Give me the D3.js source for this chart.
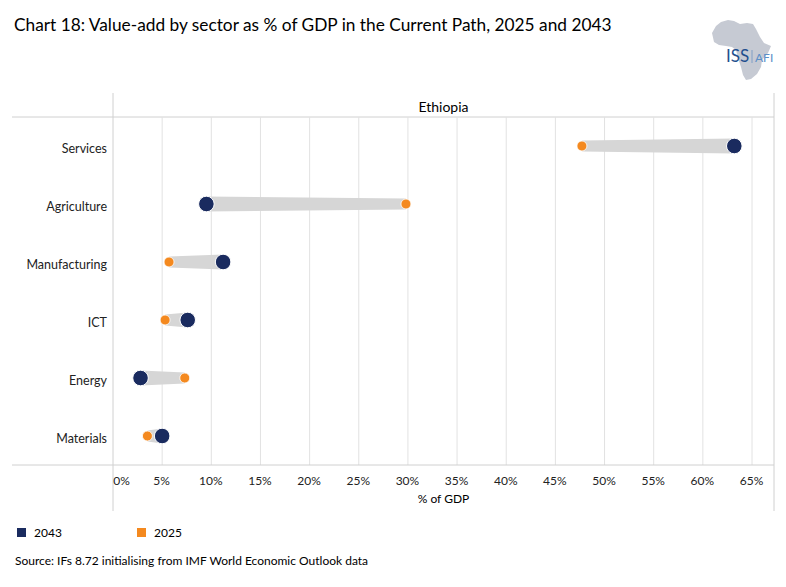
<!DOCTYPE html>
<html>
<head>
<meta charset="utf-8">
<title>Value-add by sector, Ethiopia</title>
<script src="https://d3js.org/d3.v7.min.js"></script>
<style>
  body { margin: 0; background: #fff; }
  svg { font-family: Lato, "Open Sans", sans-serif; }
</style>
</head>
<body>
<svg width="786" height="587"></svg>
<script>
// data (% of GDP)
var sectors = ["Services", "Agriculture", "Manufacturing", "ICT", "Energy", "Materials"];
var values2043 = [63.2, 9.5, 11.2, 7.6, 2.8, 5.0];
var values2025 = [47.7, 29.8, 5.7, 5.3, 7.3, 3.5];
var tickValues = [0, 5, 10, 15, 20, 25, 30, 35, 40, 45, 50, 55, 60, 65];
var seriesNames = ["2043", "2025"];
var seriesColors = ["#1a2b5f", "#f4891f"];

var svg = d3.select("svg");

var plotLeft = 113, plotRight = 774, plotTop = 117, plotBottom = 465;

var xScale = d3.scaleLinear().domain([0, 65]).range([plotLeft, 752]);
var yScale = d3.scaleBand().domain(sectors).range([plotTop, plotBottom]);

// title
svg.append("text")
  .attr("x", 14).attr("y", 31)
  .attr("font-size", 17.3).attr("fill", "#000")
  .text("Chart 18: Value-add by sector as % of GDP in the Current Path, 2025 and 2043");

// logo
var logo = svg.append("g");
logo.append("path")
  .attr("d", "M712,33 L716,26 L721,22 L728,20 L734,21 L740,24 L747,23 L753,24 L756,29 L760,37 L764,43 L771,46 L768,53 L762,60 L761,67 L757,74 L751,79 L746,80 L743,75 L741,67 L738,58 L736,50 L732,47 L726,46 L719,45 L714,42 Z")
  .attr("fill", "#c6cad3");
logo.append("text")
  .attr("x", 726).attr("y", 62)
  .attr("font-size", 17).attr("fill", "#1f4f8e")
  .text("ISS");
logo.append("line")
  .attr("x1", 752).attr("x2", 752).attr("y1", 50).attr("y2", 63)
  .attr("stroke", "#6f95c4").attr("stroke-width", 0.8);
logo.append("text")
  .attr("x", 755).attr("y", 62)
  .attr("font-size", 12).attr("fill", "#5b8fc7")
  .text("AFI");

// panel frame
var frameColor = "#d0d0d0";
svg.append("line").attr("x1", plotLeft).attr("x2", plotLeft).attr("y1", 93).attr("y2", 511)
  .attr("stroke", frameColor);
svg.append("line").attr("x1", plotRight).attr("x2", plotRight).attr("y1", 93).attr("y2", 511)
  .attr("stroke", frameColor);
svg.append("line").attr("x1", 12).attr("x2", plotRight).attr("y1", plotTop).attr("y2", plotTop)
  .attr("stroke", frameColor);

// strip label
svg.append("text")
  .attr("x", (plotLeft + plotRight) / 2).attr("y", 112)
  .attr("text-anchor", "middle").attr("font-size", 14)
  .text("Ethiopia");

// gridlines
svg.append("g").selectAll("line")
  .data(tickValues.filter(function(d) { return d > 0; }))
  .enter().append("line")
  .attr("x1", function(d) { return xScale(d); })
  .attr("x2", function(d) { return xScale(d); })
  .attr("y1", plotTop).attr("y2", plotBottom)
  .attr("stroke", "#e2e2e2");

// bottom axis line
svg.append("line").attr("x1", 12).attr("x2", plotRight).attr("y1", plotBottom).attr("y2", plotBottom)
  .attr("stroke", frameColor);

// x axis labels
var xAxis = svg.append("g")
  .attr("transform", "translate(0," + plotBottom + ")")
  .call(d3.axisBottom(xScale).tickValues(tickValues).tickSize(0).tickPadding(0)
    .tickFormat(function(d) { return d + "%"; }));
xAxis.select(".domain").remove();
xAxis.selectAll("text")
  .attr("y", 20)
  .attr("dy", 0)
  .attr("font-family", "Lato, 'Open Sans', sans-serif")
  .attr("font-size", 12).attr("fill", "#222")
  .attr("dx", function(d) { return d === 0 ? 8 : -1; });

svg.append("text")
  .attr("x", (plotLeft + plotRight) / 2).attr("y", 503)
  .attr("text-anchor", "middle").attr("font-size", 12)
  .text("% of GDP");

// y axis labels (sit a little below the dots, as in the original)
var yAxis = svg.append("g")
  .attr("transform", "translate(107,3)")
  .call(d3.axisLeft(yScale).tickSize(0).tickPadding(0));
yAxis.select(".domain").remove();
yAxis.selectAll("text")
  .attr("font-family", "Lato, 'Open Sans', sans-serif")
  .attr("font-size", 12.5).attr("fill", "#222");

// connectors: tapered band, wider at the 2043 end
var rows = sectors.map(function(s, i) {
  return { sector: s, v43: values2043[i], v25: values2025[i] };
});

function yMid(d) { return yScale(d.sector) + yScale.bandwidth() / 2; }

svg.append("g").selectAll("path")
  .data(rows)
  .enter().append("path")
  .attr("d", function(d) {
    var y = yMid(d), xa = xScale(d.v43), xb = xScale(d.v25);
    return "M" + xa + "," + (y - 7.5) + "L" + xb + "," + (y - 5.5) +
      "L" + xb + "," + (y + 5.5) + "L" + xa + "," + (y + 7.5) + "Z";
  })
  .attr("fill", "#d6d6d6");

// 2025 dots
svg.append("g").selectAll("circle")
  .data(rows)
  .enter().append("circle")
  .attr("cx", function(d) { return xScale(d.v25); })
  .attr("cy", yMid)
  .attr("r", 5)
  .attr("fill", seriesColors[1])
  .attr("stroke", "#fff").attr("stroke-width", 0.8);

// 2043 dots
svg.append("g").selectAll("circle")
  .data(rows)
  .enter().append("circle")
  .attr("cx", function(d) { return xScale(d.v43); })
  .attr("cy", yMid)
  .attr("r", 7.8)
  .attr("fill", seriesColors[0])
  .attr("stroke", "#fff").attr("stroke-width", 1);

// legend
var legend = svg.append("g").selectAll("g")
  .data(seriesNames)
  .enter().append("g")
  .attr("transform", function(d, i) { return "translate(" + (17 + i * 120) + ",528)"; });
legend.append("rect")
  .attr("width", 9).attr("height", 9)
  .attr("fill", function(d, i) { return seriesColors[i]; });
legend.append("text")
  .attr("x", 17).attr("y", 9)
  .attr("font-size", 12)
  .text(function(d) { return d; });

// source
svg.append("text")
  .attr("x", 15).attr("y", 565)
  .attr("font-size", 12)
  .text("Source: IFs 8.72 initialising from IMF World Economic Outlook data");
</script>
</body>
</html>
